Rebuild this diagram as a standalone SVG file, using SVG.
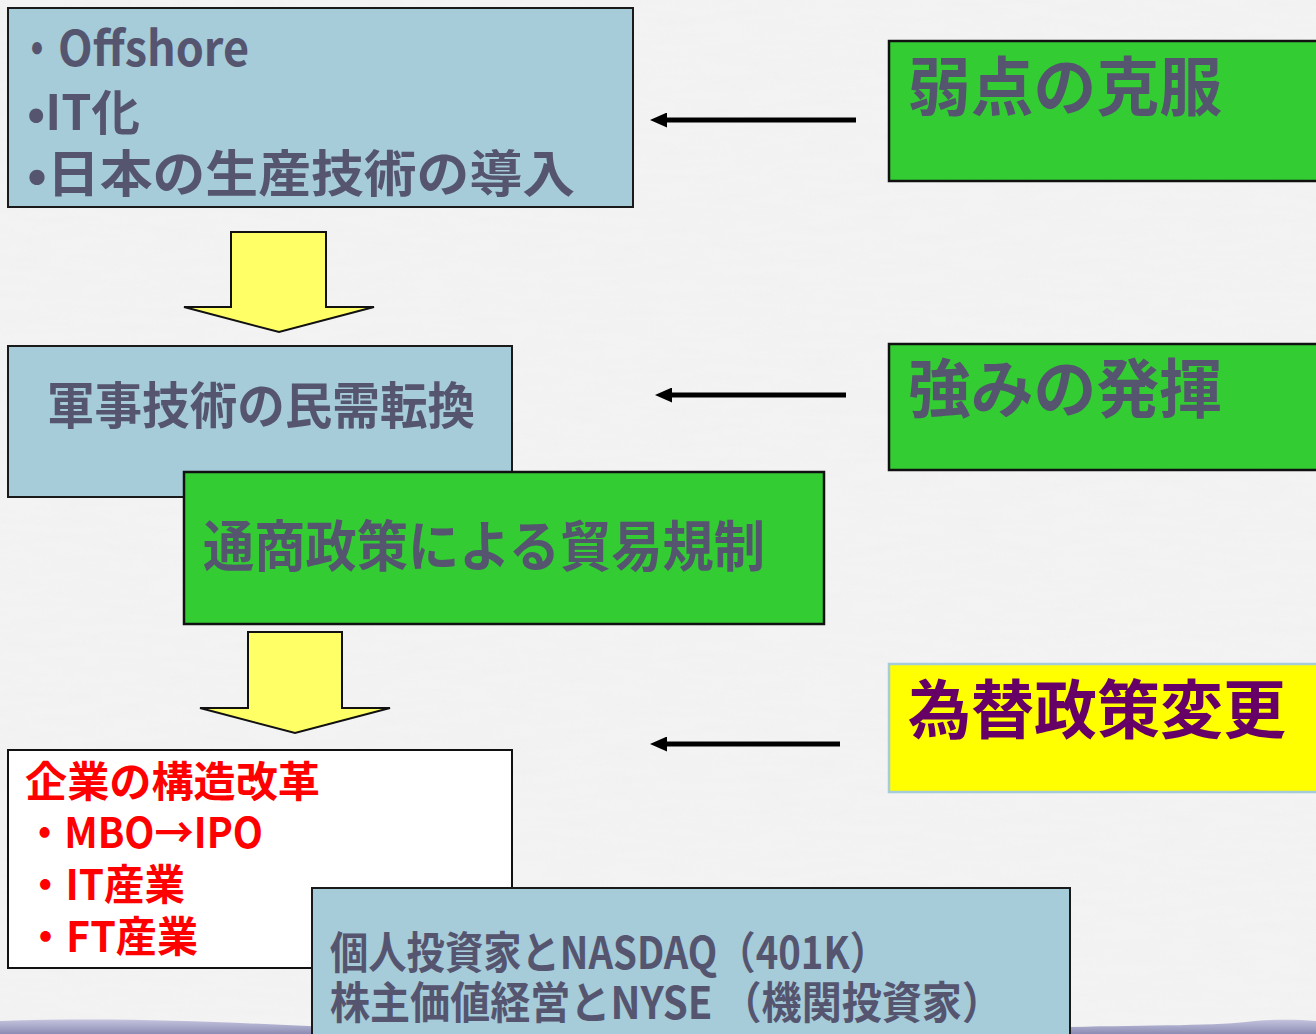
<svg xmlns="http://www.w3.org/2000/svg" width="1316" height="1034" viewBox="0 0 1316 1034">
<defs>
<style>
.t{font-family:"Noto Sans CJK JP","Noto Sans",sans-serif;fill:#55556F;font-weight:700}
.r{font-family:"Noto Sans CJK JP","Noto Sans",sans-serif;fill:#FF0000;font-weight:700}
.blue{fill:#A6CBD9;stroke:#1a1a1a;stroke-width:2}
.green{fill:#33CC33;stroke:#111;stroke-width:2.5}
.blk{fill:#FFFF66;stroke:#111;stroke-width:2;stroke-linejoin:miter}
.ln{stroke:#000;stroke-width:5;fill:none}
</style>
<marker id="ah" markerWidth="17" markerHeight="15" refX="5" refY="7.5" orient="auto" markerUnits="userSpaceOnUse">
<path d="M0,0 L17,7.5 L0,15 Z" fill="#000"/>
</marker>
<linearGradient id="wave" x1="0" y1="0" x2="0" y2="1">
<stop offset="0" stop-color="#C4C4DE"/>
<stop offset="1" stop-color="#8C8CB4"/>
</linearGradient>
<filter id="tex" x="0" y="0" width="100%" height="100%">
<feTurbulence type="fractalNoise" baseFrequency="0.02 0.12" numOctaves="3" seed="4" result="n"/>
<feColorMatrix type="matrix" values="0 0 0 0 0.85  0 0 0 0 0.85  0 0 0 0 0.85  0 0 0 0.9 -0.25" in="n"/>
</filter>
</defs>
<rect x="0" y="0" width="1316" height="1034" fill="#F3F3F3"/>
<rect x="0" y="0" width="1316" height="1034" filter="url(#tex)" opacity="0.6"/>
<path d="M0,1021 C120,1017 220,1022 330,1027 L1070,1027 C1150,1025 1220,1026 1255,1021 C1280,1019 1300,1020 1316,1021 L1316,1034 L0,1034 Z" fill="url(#wave)"/>

<g id="connectors">
<line class="ln" x1="856" y1="120" x2="662" y2="120" marker-end="url(#ah)"/>
<line class="ln" x1="846" y1="395" x2="667" y2="395" marker-end="url(#ah)"/>
<line class="ln" x1="840" y1="744" x2="662" y2="744" marker-end="url(#ah)"/>
<path class="blk" d="M231,232 L326,232 L326,307 L374,307 L279,332 L184,307 L231,307 Z"/>
<path class="blk" d="M248,632 L342,632 L342,708 L390,708 L295,733 L200,708 L248,708 Z"/>
</g>

<g id="node-improve">
<rect class="blue" x="8" y="8" width="625" height="199"/>
<text class="t" x="18" y="66" font-size="48" textLength="38" lengthAdjust="spacingAndGlyphs">・</text>
<text class="t" x="58" y="66" font-size="48" font-weight="500" textLength="191" lengthAdjust="spacingAndGlyphs">Offshore</text>
<text class="t" x="27" y="130" font-size="48" textLength="113" lengthAdjust="spacingAndGlyphs">•IT化</text>
<text class="t" x="27" y="192" font-size="50" textLength="548" lengthAdjust="spacingAndGlyphs">•日本の生産技術の導入</text>
</g>

<g id="node-weakness">
<rect class="green" x="889" y="41" width="440" height="140"/>
<text class="t" x="908" y="110" font-size="64" textLength="314" lengthAdjust="spacingAndGlyphs">弱点の克服</text>
</g>

<g id="node-military">
<rect class="blue" x="8" y="346" width="504" height="151"/>
<text class="t" x="47" y="424" font-size="50" textLength="428" lengthAdjust="spacingAndGlyphs">軍事技術の民需転換</text>
</g>

<g id="node-strength">
<rect class="green" x="889" y="344" width="440" height="126"/>
<text class="t" x="908" y="412" font-size="64" textLength="314" lengthAdjust="spacingAndGlyphs">強みの発揮</text>
</g>

<g id="node-trade">
<rect class="green" x="184" y="472" width="640" height="152" stroke-width="2"/>
<text class="t" x="203" y="566" font-size="55" textLength="562" lengthAdjust="spacingAndGlyphs">通商政策による貿易規制</text>
</g>

<g id="node-fx">
<rect x="889" y="664" width="440" height="128" fill="#FFFF00" stroke="#A6CBD9" stroke-width="2.5"/>
<text x="908" y="733" font-size="64" font-weight="700" fill="#660066" font-family="'Noto Sans CJK JP','Noto Sans',sans-serif" textLength="378" lengthAdjust="spacingAndGlyphs">為替政策変更</text>
</g>

<g id="node-restructure">
<rect x="8" y="750" width="504" height="218" fill="#FFFFFF" stroke="#111" stroke-width="2"/>
<text class="r" x="25" y="797" font-size="42" textLength="295" lengthAdjust="spacingAndGlyphs">企業の構造改革</text>
<text class="r" x="25" y="848" font-size="42" textLength="238" lengthAdjust="spacingAndGlyphs">・MBO→IPO</text>
<text class="r" x="25" y="900" font-size="42" textLength="160" lengthAdjust="spacingAndGlyphs">・IT産業</text>
<text class="r" x="25" y="952" font-size="42" textLength="173" lengthAdjust="spacingAndGlyphs">・FT産業</text>
</g>

<g id="node-investors">
<rect class="blue" x="312" y="888" width="758" height="160"/>
<text class="t" x="330" y="969" font-size="44" textLength="558" lengthAdjust="spacingAndGlyphs">個人投資家とNASDAQ（401K）</text>
<text class="t" x="330" y="1019" font-size="44" textLength="672" lengthAdjust="spacingAndGlyphs">株主価値経営とNYSE （機関投資家）</text>
</g>
</svg>
